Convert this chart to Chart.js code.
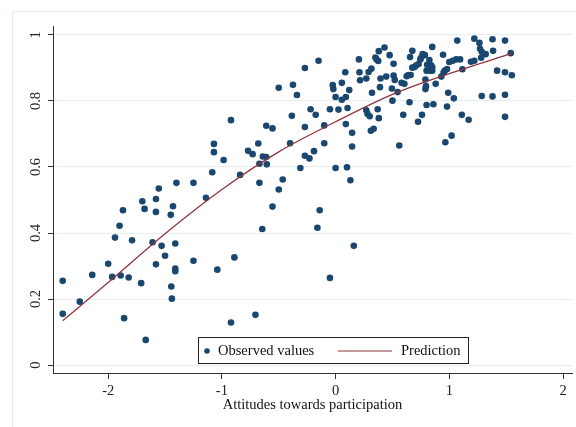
<!DOCTYPE html>
<html lang="en">
<head>
    <meta charset="UTF-8">
    <title>Observed values and prediction</title>
    <script src="https://cdn.jsdelivr.net/npm/chart.js"></script>
    <style>
        body { margin: 0; padding: 0; background: #fff; }
        #grafica { display: block; }
    </style>
</head>
<body>
    <canvas id="grafica" width="576" height="427"></canvas>
    <script>
        const obsX = [
            -2.40, -2.40, -2.25, -2.14, -2.00, -1.965, -1.94, -1.90, -1.87, -1.89,
            -1.86, -1.82, -1.79, -1.71, -1.70, -1.68, -1.67, -1.61, -1.58, -1.58,
            -1.555, -1.53, -1.50, -1.58, -1.45, -1.43, -1.40, -1.41, -1.41, -1.41,
            -1.445, -1.44, -1.25, -1.25, -1.14, -1.085, -1.07, -1.07, -0.985, -0.92,
            -0.84, -0.77, -0.73, -0.68, -0.67, -0.67, -0.64, -0.61, -0.605, -0.61,
            -0.555, -0.50, -0.50, -0.465, -0.40, -0.385, -0.375, -0.34, -0.31, -0.27,
            -0.27, -0.27, -0.23, -0.22, -0.19, -0.175, -0.15, -0.10, -0.10, -0.05,
            -0.025, -0.02, 0.00, 0.00, 0.025, 0.055, 0.055, 0.085, 0.09, 0.09,
            0.10, 0.105, 0.12, 0.13, 0.145, 0.145, 0.205, 0.21, 0.215, 0.27,
            0.27, 0.28, 0.29, 0.30, 0.315, 0.32, 0.31, 0.335, 0.35, 0.36,
            0.375, 0.38, 0.37, 0.38, 0.39, 0.395, -0.555, -0.645, -0.14, -0.16,
            0.16, -1.04, -0.89, -0.05, -0.92, -0.705, 0.43, 0.475, 0.51, 0.445,
            0.495, 0.51, 0.52, 0.545, 0.50, 0.56, 0.675, 0.655, 0.85, 1.07,
            1.22, 1.265, 1.38, 1.49, 1.27, 1.285, 1.385, 1.32, 1.54, 0.945,
            0.765, 0.785, 0.75, 0.745, 0.825, 0.84, 0.85, 0.73, 0.71, 0.695,
            0.675, 0.805, 1.00, 1.03, 1.06, 1.095, 1.115, 1.19, 1.22, 1.28,
            0.98, 0.96, 0.95, 0.80, 0.83, 0.85, 0.64, 0.66, 0.625, 0.79,
            0.93, 0.88, 0.795, 0.79, 0.58, 0.605, 1.42, 1.49, 1.55, 0.99,
            1.04, 1.285, 1.38, 1.49, 0.65, 0.80, 0.86, 0.98, 0.595, 0.76,
            0.725, 1.11, 1.17, 1.49, 0.965, 1.02
        ];
        const obsY = [
            0.255, 0.155, 0.192, 0.273, 0.307, 0.267, 0.386, 0.422, 0.469, 0.271,
            0.142, 0.265, 0.378, 0.248, 0.496, 0.473, 0.076, 0.372, 0.503, 0.464,
            0.535, 0.361, 0.331, 0.305, 0.455, 0.481, 0.552, 0.368, 0.292, 0.284,
            0.238, 0.201, 0.552, 0.316, 0.507, 0.584, 0.645, 0.670, 0.621, 0.742,
            0.576, 0.649, 0.639, 0.671, 0.610, 0.552, 0.632, 0.630, 0.608, 0.725,
            0.717, 0.840, 0.532, 0.562, 0.672, 0.755, 0.849, 0.818, 0.597, 0.721,
            0.634, 0.900, 0.626, 0.775, 0.648, 0.758, 0.922, 0.672, 0.726, 0.775,
            0.848, 0.836, 0.597, 0.812, 0.774, 0.855, 0.804, 0.887, 0.812, 0.730,
            0.599, 0.779, 0.833, 0.560, 0.704, 0.662, 0.926, 0.887, 0.863, 0.868,
            0.772, 0.761, 0.888, 0.754, 0.898, 0.825, 0.710, 0.716, 0.932, 0.926,
            0.921, 0.951, 0.775, 0.748, 0.842, 0.868, 0.480, 0.412, 0.469, 0.416,
            0.361, 0.289, 0.326, 0.264, 0.129, 0.152, 0.962, 0.939, 0.913, 0.874,
            0.838, 0.877, 0.864, 0.827, 0.801, 0.665, 0.952, 0.933, 0.964, 0.983,
            0.989, 0.976, 0.987, 0.983, 0.958, 0.949, 0.952, 0.942, 0.945, 0.940,
            0.942, 0.939, 0.930, 0.926, 0.924, 0.908, 0.902, 0.912, 0.908, 0.903,
            0.901, 0.910, 0.918, 0.922, 0.926, 0.926, 0.896, 0.919, 0.922, 0.931,
            0.897, 0.892, 0.886, 0.892, 0.892, 0.892, 0.879, 0.879, 0.875, 0.865,
            0.874, 0.852, 0.845, 0.836, 0.855, 0.852, 0.892, 0.887, 0.878, 0.825,
            0.808, 0.815, 0.814, 0.819, 0.796, 0.788, 0.790, 0.783, 0.758, 0.758,
            0.737, 0.758, 0.743, 0.752, 0.675, 0.695
        ];

        // Prediction curve
        const predX = [-2.40, -2.00, -1.50, -1.00, -0.50, 0.00, 0.50, 1.00, 1.55];
        const predY = [0.134, 0.250, 0.398, 0.532, 0.646, 0.737, 0.820, 0.883, 0.944];

        // Ticks
        const xTicks = [-2, -1, 0, 1, 2];
        const yTicks = [0, 0.2, 0.4, 0.6, 0.8, 1];

        const FUENTE = '"Liberation Serif", "Times New Roman", serif';
        const AZUL = '#1a476f';
        const ROJO = '#90353b';

        // Fondo, etiquetas del eje Y giradas y leyenda dentro del área
        const decor = {
            id: 'decor',
            beforeDraw(chart) {
                const c = chart.ctx;
                c.save();
                c.fillStyle = '#fff';
                c.fillRect(0, 0, chart.width, chart.height);
                c.strokeStyle = '#e2ebef';
                c.lineWidth = 1;
                c.beginPath();
                c.moveTo(12.5, chart.height);
                c.lineTo(12.5, 11.5);
                c.lineTo(chart.width, 11.5);
                c.stroke();
                c.restore();
            },
            afterDraw(chart) {
                const c = chart.ctx;
                const y = chart.scales.y;
                c.save();
                c.font = '14.5px ' + FUENTE;
                c.fillStyle = '#222';
                c.textAlign = 'center';
                c.textBaseline = 'middle';
                yTicks.forEach(v => {
                    c.save();
                    c.translate(36, y.getPixelForValue(v));
                    c.rotate(-Math.PI / 2);
                    c.fillText(String(v), 0, 0);
                    c.restore();
                });

                // leyenda
                c.fillStyle = '#fff';
                c.fillRect(198, 337, 270, 26);
                c.strokeStyle = '#222';
                c.lineWidth = 1;
                c.strokeRect(198.5, 337.5, 270, 26);
                c.fillStyle = AZUL;
                c.beginPath();
                c.arc(207, 351, 2.8, 0, Math.PI * 2);
                c.fill();
                c.fillStyle = '#111';
                c.textAlign = 'left';
                c.fillText('Observed values', 218, 351);
                c.strokeStyle = ROJO;
                c.lineWidth = 1.2;
                c.beginPath();
                c.moveTo(338, 351);
                c.lineTo(392, 351);
                c.stroke();
                c.fillStyle = '#111';
                c.fillText('Prediction', 401, 351);
                c.restore();
            }
        };

        const ctx = document.getElementById('grafica').getContext('2d');
        new Chart(ctx, {
            data: {
                datasets: [
                    {
                        type: 'scatter',
                        label: 'Observed values',
                        data: obsX.map((x, i) => ({ x: x, y: obsY[i] })),
                        backgroundColor: AZUL,
                        borderWidth: 0,
                        pointRadius: 3.3,
                        order: 2
                    },
                    {
                        type: 'line',
                        label: 'Prediction',
                        data: predX.map((x, i) => ({ x: x, y: predY[i] })),
                        borderColor: ROJO,
                        borderWidth: 1.3,
                        pointRadius: 0,
                        fill: false,
                        cubicInterpolationMode: 'monotone',
                        order: 1
                    }
                ]
            },
            options: {
                responsive: false,
                animation: false,
                layout: { padding: { left: 0, top: 26, right: 3, bottom: 0 } },
                plugins: {
                    legend: { display: false },
                    tooltip: { enabled: false }
                },
                scales: {
                    x: {
                        type: 'linear',
                        min: -2.4854,
                        max: 2.079,
                        afterBuildTicks: s => { s.ticks = xTicks.map(v => ({ value: v })); },
                        afterFit: s => { s.height = 54; },
                        grid: { color: 'rgba(0,0,0,0)', tickColor: '#333', tickLength: 6 },
                        border: { display: true, color: '#333', width: 1 },
                        ticks: {
                            color: '#222',
                            padding: 3,
                            maxRotation: 0,
                            font: { family: FUENTE, size: 14.5 }
                        },
                        title: {
                            display: true,
                            text: 'Attitudes towards participation',
                            color: '#111',
                            font: { family: FUENTE, size: 14.5 },
                            padding: { top: 0, bottom: 13 }
                        }
                    },
                    y: {
                        type: 'linear',
                        min: -0.02424,
                        max: 1.02727,
                        afterBuildTicks: s => { s.ticks = yTicks.map(v => ({ value: v })); },
                        afterFit: s => { s.width = 53; },
                        grid: { color: '#e6eef1', tickColor: '#333', tickLength: 5 },
                        border: { display: true, color: '#333', width: 1 },
                        ticks: { display: false }
                    }
                }
            },
            plugins: [decor]
        });
    </script>
</body>
</html>
